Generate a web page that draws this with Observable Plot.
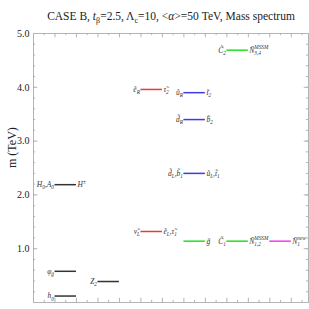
<!DOCTYPE html>
<html><head><meta charset="utf-8">
<script src="https://cdn.jsdelivr.net/npm/d3@7"></script>
<script src="https://cdn.jsdelivr.net/npm/@observablehq/plot@0.6"></script>
<style>body{margin:0;background:#fff}</style>
</head><body><div id="chart"></div>
<script>
// ---- data ----
const titleText = "CASE B, ~{t}_{β}=2.5, Λ_{c}=10, <~{α}>=50 TeV, Mass spectrum";
const yLabel = "m (TeV)";
const columns = [0, 0, 0, 1, 2, 2, 3, 3, 3, 3, 4, 4, 5];
const masses  = [2.19, 0.58, 0.12, 0.39, 3.96, 1.32, 3.90, 3.40, 2.40, 1.14, 4.69, 1.14, 1.14];
const groups  = ["higgs","higgs","higgs","higgs","slepton","slepton","squark","squark","squark","gaugino","gaugino","gaugino","new"];
const leftLabels  = ["H_{0},A_{0}", "φ_{g̃}", "h_{0}", "Z_{2}", "ẽ_{R}", "ν̃_{L}", "ũ_{R}", "d̃_{R}", "d̃_{L},b̃_{1}", "", "C̃_{2}", "C̃_{1}", ""];
const rightLabels = ["H^{±}", "", "", "", "τ̃_{2}", "ẽ_{L},τ̃_{1}", "t̃_{2}", "b̃_{2}", "ũ_{L},t̃_{1}", "g̃", "Ñ^{MSSM}_{3,4}", "Ñ^{MSSM}_{1,2}", "Ñ^{new}_{1}"];
const groupDomain = ["higgs", "slepton", "squark", "gaugino", "new"];
const groupColors = ["#333333", "#e8393f", "#3b3bea", "#22e022", "#f03cf0"];
const yTickValues = [1, 2, 3, 4, 5];

const data = columns.map((c, i) => ({col: c, m: masses[i], group: groups[i], left: leftLabels[i], right: rightLabels[i]}));
const yMajor = d3.range(0, 5.001, 1);
const yMinor = d3.range(0, 5.001, 0.2);
const xMajor = d3.range(0, 6.401, 0.5);
const xMinor = d3.range(0.25, 6.401, 0.5);
const X0 = 0, X1 = 6.4, Y0 = 0, Y1 = 5;
const FONT = "Liberation Serif";
const frameColor = "#b4b4b4";

const chart = Plot.plot({
  width: 309, height: 309,
  marginTop: 33, marginBottom: 7, marginLeft: 33, marginRight: 1,
  style: {fontFamily: FONT, background: "#fff"},
  x: {domain: [X0, X1], axis: null},
  y: {domain: [Y0, Y1], axis: null},
  color: {domain: groupDomain, range: groupColors},
  marks: [
    Plot.frame({stroke: frameColor}),
    Plot.ruleY(yMajor, {x1: X0, x2: X0 + 0.1, stroke: frameColor}),
    Plot.ruleY(yMinor, {x1: X0, x2: X0 + 0.05, stroke: frameColor}),
    Plot.ruleY(yMajor, {x1: X1 - 0.1, x2: X1, stroke: frameColor}),
    Plot.ruleY(yMinor, {x1: X1 - 0.05, x2: X1, stroke: frameColor}),
    Plot.ruleX(xMajor, {y1: Y1, y2: Y1 - 0.08, stroke: frameColor}),
    Plot.ruleX(xMinor, {y1: Y1, y2: Y1 - 0.04, stroke: frameColor}),
    Plot.ruleX(xMajor, {y1: Y0, y2: Y0 + 0.08, stroke: frameColor}),
    Plot.ruleX(xMinor, {y1: Y0, y2: Y0 + 0.04, stroke: frameColor}),
    Plot.axisY(yTickValues, {tickSize: 0, tickPadding: 4, tickFormat: d3.format(".1f"), label: null, fontSize: 10, fill: "#222"}),
    Plot.text([yLabel], {frameAnchor: "left", rotate: -90, dx: -21, fontSize: 12, fill: "#222"}),
    Plot.text([titleText], {frameAnchor: "top", dy: -22, fontSize: 11.5, fill: "#222"}),
    Plot.ruleY(data, {y: "m", x1: d => d.col + 0.5, x2: d => d.col + 1, stroke: "group", strokeWidth: 1.5}),
    Plot.text(data.filter(d => d.left), {x: d => d.col + 0.5, y: "m", text: "left", textAnchor: "end", dx: -1, fontSize: 7.5, fontStyle: "italic", fill: "#333"}),
    Plot.text(data.filter(d => d.right), {x: d => d.col + 1, y: "m", text: "right", textAnchor: "start", dx: 1, fontSize: 7.5, fontStyle: "italic", fill: "#333"})
  ]
});
document.getElementById("chart").appendChild(chart);

// turn _{..} ^{..} ~{..} markup into tspans
function richify(svg) {
  const NS = "http://www.w3.org/2000/svg";
  svg.querySelectorAll("text").forEach(t => {
    const s = t.textContent;
    if (!/[_^~]\{/.test(s)) return;
    const fs = parseFloat(getComputedStyle(t).fontSize) || 10;
    while (t.firstChild) t.removeChild(t.firstChild);
    const re = /([_^~])\{([^}]*)\}|([^_^~]+|[_^~])/g;
    let m, cur = 0, prevSup = null;
    while ((m = re.exec(s))) {
      const ts = document.createElementNS(NS, "tspan");
      let target = 0, size = null, dx = 0;
      if (m[1] === "_") { target = 0.3 * fs; size = 0.7 * fs; if (prevSup) dx = -prevSup.getComputedTextLength(); }
      else if (m[1] === "^") { target = -0.45 * fs; size = 0.7 * fs; }
      else if (m[1] === "~") { ts.setAttribute("font-style", "italic"); }
      ts.textContent = m[1] ? m[2] : m[3];
      if (size) ts.setAttribute("font-size", size);
      if (target - cur !== 0) ts.setAttribute("dy", target - cur);
      if (dx) ts.setAttribute("dx", dx);
      cur = target;
      t.appendChild(ts);
      prevSup = m[1] === "^" ? ts : null;
    }
  });
}
richify(chart);
</script>
</body></html>
